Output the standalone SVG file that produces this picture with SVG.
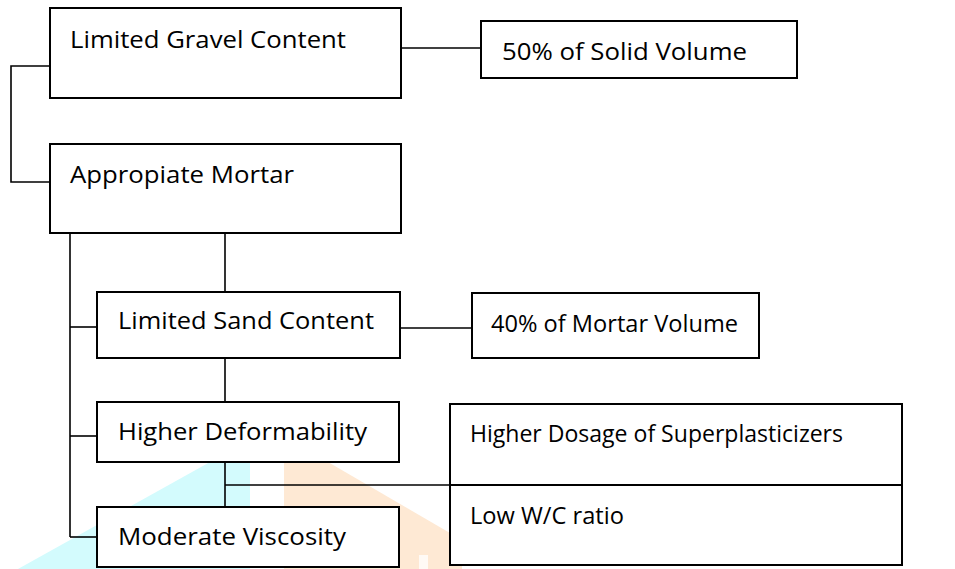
<svg xmlns="http://www.w3.org/2000/svg" width="955" height="569" viewBox="0 0 955 569">
<style>
.box{fill:#ffffff;stroke:#000000;stroke-width:2}
.ln{fill:none;stroke:#000000;stroke-width:1.6}
.t{font-family:"Open Sans","Noto Sans","Liberation Sans",sans-serif;font-size:23.5px;fill:#000000}
</style>
<rect x="0" y="0" width="955" height="569" fill="#ffffff"/>
<g id="watermark">
<polygon points="18,569 210,462 250,462 250,569" fill="#d3fbfd"/>
<polygon points="284,462 328,462 462,540 462,569 284,569" fill="#fee9d4"/>
<rect x="419" y="555" width="9" height="14" fill="#fffaf5"/>
</g>
<g id="connectors">
<polyline class="ln" points="50,66 11,66 11,182 50,182"/>
<line class="ln" x1="401" y1="48" x2="481" y2="48"/>
<line class="ln" x1="70" y1="233" x2="70" y2="537"/>
<line class="ln" x1="70" y1="327" x2="97" y2="327"/>
<line class="ln" x1="70" y1="436" x2="97" y2="436"/>
<line class="ln" x1="70" y1="537" x2="97" y2="537"/>
<line class="ln" x1="225" y1="233" x2="225" y2="292"/>
<line class="ln" x1="400" y1="328" x2="472" y2="328"/>
<line class="ln" x1="225" y1="358" x2="225" y2="402"/>
<line class="ln" x1="225" y1="462" x2="225" y2="507"/>
<line class="ln" x1="225" y1="485" x2="450" y2="485"/>
</g>
<g id="n-gravel">
<rect class="box" x="50" y="8" width="351" height="90"/>
<text class="t" x="70" y="48" textLength="276" lengthAdjust="spacingAndGlyphs">Limited Gravel Content</text>
</g>
<g id="n-solid">
<rect class="box" x="481" y="21" width="316" height="57"/>
<text class="t" x="502" y="60" textLength="245" lengthAdjust="spacingAndGlyphs">50% of Solid Volume</text>
</g>
<g id="n-mortar">
<rect class="box" x="50" y="144" width="351" height="89"/>
<text class="t" x="70" y="183" textLength="224" lengthAdjust="spacingAndGlyphs">Appropiate Mortar</text>
</g>
<g id="n-sand">
<rect class="box" x="97" y="292" width="303" height="66"/>
<text class="t" x="118" y="329" textLength="256" lengthAdjust="spacingAndGlyphs">Limited Sand Content</text>
</g>
<g id="n-mortarvol">
<rect class="box" x="472" y="293" width="287" height="65"/>
<text class="t" x="491" y="332" textLength="247" lengthAdjust="spacingAndGlyphs">40% of Mortar Volume</text>
</g>
<g id="n-deform">
<rect class="box" x="97" y="402" width="302" height="60"/>
<text class="t" x="118" y="440" textLength="249" lengthAdjust="spacingAndGlyphs">Higher Deformability</text>
</g>
<g id="n-visc">
<rect class="box" x="97" y="507" width="302" height="60"/>
<text class="t" x="118" y="545" textLength="228" lengthAdjust="spacingAndGlyphs">Moderate Viscosity</text>
</g>
<g id="n-right">
<rect class="box" x="450" y="404" width="452" height="161"/>
<line class="box" x1="450" y1="485" x2="902" y2="485"/>
<text class="t" x="470" y="442" textLength="373" lengthAdjust="spacingAndGlyphs">Higher Dosage of Superplasticizers</text>
<text class="t" x="470" y="524" textLength="154" lengthAdjust="spacingAndGlyphs">Low W/C ratio</text>
</g>
</svg>
